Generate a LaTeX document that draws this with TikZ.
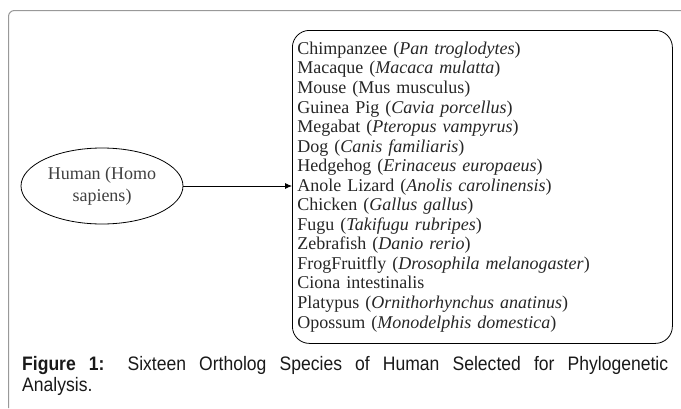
\documentclass[tikz,border=0pt]{standalone}
\usepackage{fontspec}
\setmainfont{Liberation Serif}
\setsansfont{Liberation Sans}
\newfontfamily\capfont{Liberation Sans}[FakeStretch=0.9]
\usepackage{tikz}
\usetikzlibrary{arrows.meta,shapes,positioning}
\tikzset{>={Latex[width=6pt,length=7pt]}}

\begin{document}
\begin{tikzpicture}[x=1pt,y=-1pt]

  \useasboundingbox (0,0) rectangle (681,408);

  \tikzset{
    frame/.style={draw=black!40, line width=1pt, rounded corners=6pt},
    species/.style={draw, line width=0.8pt, rounded corners=17pt, anchor=north west,
      align=left, text width=370pt, inner xsep=5pt, minimum height=313pt,
      font=\fontsize{18}{19.55}\selectfont, text=black!85},
    human/.style={draw, ellipse, line width=0.8pt, minimum width=162pt, minimum height=76pt,
      inner sep=0pt, align=center, font=\fontsize{18}{22}\selectfont, text=black!75},
    caption/.style={anchor=north west, text width=646pt, align=justify, inner sep=0pt,
      font=\capfont\fontsize{19.5}{21}\selectfont, text=black!90}
  }

  %% outer frame, cut at the right and bottom
  \draw[frame] (8.5,408) -- (8.5,10.5) -- (681,10.5);

  \node[species] (orthologs) at (292,30) {%
    Chimpanzee (\textit{Pan troglodytes})\\
    Macaque (\textit{Macaca mulatta})\\
    Mouse (Mus musculus)\\
    Guinea Pig (\textit{Cavia porcellus})\\
    Megabat (\textit{Pteropus vampyrus})\\
    Dog (\textit{Canis familiaris})\\
    Hedgehog (\textit{Erinaceus europaeus})\\
    Anole Lizard (\textit{Anolis carolinensis})\\
    Chicken (\textit{Gallus gallus})\\
    Fugu (\textit{Takifugu rubripes})\\
    Zebrafish (\textit{Danio rerio})\\
    FrogFruitfly (\textit{Drosophila melanogaster})\\
    Ciona intestinalis\\
    Platypus (\textit{Ornithorhynchus anatinus})\\
    Opossum (\textit{Monodelphis domestica})};

  \node[human] (human) at (102,186) {Human (Homo\\sapiens)};

  \draw[->, line width=0.8pt] (human.east) -- (orthologs.west |- human.east); %% human -> orthologs

  \node[caption] (fig) at (22,356) {\textbf{Figure 1:} Sixteen Ortholog Species of Human Selected for Phylogenetic\linebreak Analysis.};

\end{tikzpicture}
\end{document}
